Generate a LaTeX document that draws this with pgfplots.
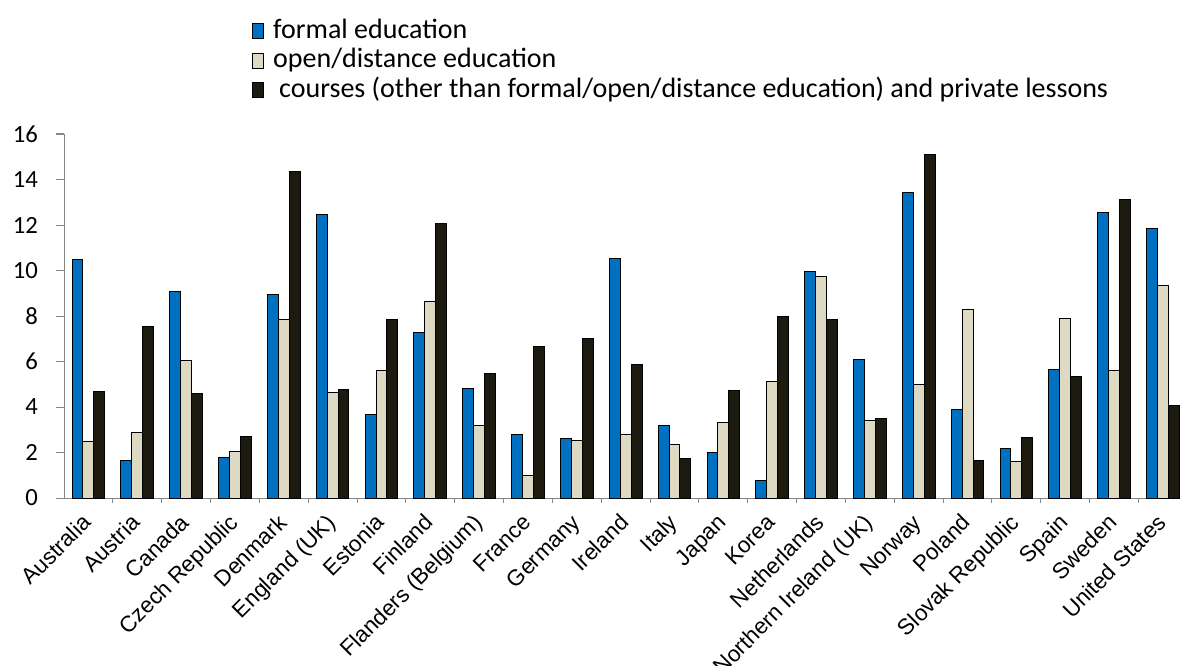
\documentclass[border=0pt]{standalone}
\usepackage{fontspec}
\setmainfont{Carlito}
\newfontfamily\arialf{Liberation Sans}
\usepackage{pgfplots}
\usepackage{pgfplotstable}
\pgfplotsset{compat=1.18}
\definecolor{cblue}{RGB}{0,112,192}
\definecolor{cbeige}{RGB}{221,217,195}
\definecolor{cdark}{RGB}{29,27,16}
\definecolor{axisgray}{RGB}{134,134,134}

\pgfplotstableread{
x formal open courses
0  10.48 2.48 4.68
1  1.63  2.89 7.52
2  9.06  6.05 4.59
3  1.77  2.04 2.71
4  8.94  7.85 14.36
5  12.47 4.62 4.76
6  3.68  5.61 7.85
7  7.28  8.62 12.06
8  4.82  3.17 5.48
9  2.80  1.01 6.68
10 2.62  2.54 7.00
11 10.54 2.80 5.86
12 3.18  2.33 1.75
13 2.01  3.33 4.72
14 0.75  5.12 7.96
15 9.95  9.75 7.83
16 6.10  3.40 3.49
17 13.41 5.00 15.11
18 3.89  8.28 1.64
19 2.16  1.60 2.67
20 5.67  7.91 5.33
21 12.54 5.60 13.10
22 11.85 9.33 4.06
}\datatable

\begin{document}
\begin{tikzpicture}[x=1pt,y=1pt]
\path[use as bounding box] (0,0) rectangle (1180,665);
\begin{axis}[
  at={(64pt,167pt)}, anchor=south west,
  width=1116pt, height=364pt, scale only axis,
  ybar=0pt, bar width=10.9pt,
  xmin=-0.5, xmax=22.35, ymin=0, ymax=16,
  ytick={0,2,...,16},
  xtick={0,...,22},
  xticklabels={Australia,Austria,Canada,Czech Republic,Denmark,England (UK),Estonia,Finland,Flanders (Belgium),France,Germany,Ireland,Italy,Japan,Korea,Netherlands,Northern Ireland (UK),Norway,Poland,Slovak Republic,Spain,Sweden,United States},
  minor xtick={0.5,1.5,...,21.5},
  axis x line*=bottom, axis y line*=left,
  axis line style={draw=axisgray, line width=1pt},
  tick align=outside,
  major tick length=8pt, minor tick length=5pt,
  major x tick style={draw=none},
  minor x tick style={draw=axisgray, line width=1pt},
  major y tick style={draw=axisgray, line width=1pt},
  /pgf/number format/assume math mode=true,
  yticklabel style={font=\fontsize{24.7}{26}\selectfont, anchor=east, inner sep=0pt, xshift=-18pt},
  xticklabel style={font=\arialf\fontsize{22.4}{24}\selectfont, rotate=45, anchor=base east, inner sep=0pt, xshift=-9.7pt, yshift=-15.8pt},
  legend image code/.code={\draw[#1, line width=1pt] (0pt,-7.5pt) rectangle (11pt,7.5pt);},
  legend style={at={(rel axis cs:0.16846,1.3218)}, anchor=north west, draw=none, fill=none,
    font=\fontsize{28}{30}\selectfont, inner sep=0pt, row sep=1.5pt,
    nodes={inner sep=0pt, text height=21pt, text depth=7pt},
    /tikz/every odd column/.append style={column sep=9pt}},
  legend cell align=left,
]
\addplot[fill=cblue, draw=black, line width=1pt] table[x=x, y=formal] {\datatable};
\addplot[fill=cbeige, draw=black, line width=1pt] table[x=x, y=open] {\datatable};
\addplot[fill=cdark, draw=black, line width=1pt] table[x=x, y=courses] {\datatable};
\legend{formal education, open/distance education, \hspace{6pt}courses (other than formal/open/distance education) and private lessons}
\end{axis}
\end{tikzpicture}
\end{document}
